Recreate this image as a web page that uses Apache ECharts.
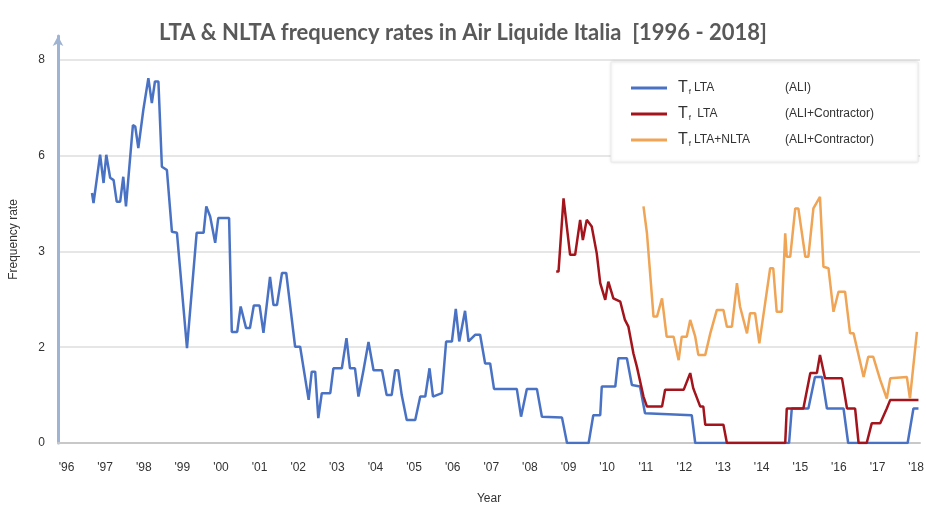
<!DOCTYPE html>
<html>
<head>
<meta charset="utf-8">
<script src="https://cdn.jsdelivr.net/npm/echarts@6/dist/echarts.min.js"></script>
<style>
  html, body { margin: 0; padding: 0; background: #fff; }
  #chart { width: 926px; height: 507px; }
</style>
</head>
<body>
<div id="chart"></div>
<script>
// Tf LTA (ALI) - [year, rate]
const aliLta = [
  [1996.66, 5.22], [1996.70, 5.01], [1996.87, 6.02], [1996.96, 5.43], [1997.03, 6.02],
  [1997.13, 5.54], [1997.22, 5.49], [1997.30, 5.04], [1997.39, 5.04], [1997.47, 5.56],
  [1997.54, 4.94], [1997.72, 6.64], [1997.78, 6.61], [1997.86, 6.16], [1997.99, 6.96],
  [1998.12, 7.62], [1998.21, 7.10], [1998.29, 7.55], [1998.38, 7.55], [1998.47, 5.77],
  [1998.60, 5.70], [1998.73, 4.41], [1998.86, 4.39], [1999.12, 1.98], [1999.37, 4.39],
  [1999.55, 4.39], [1999.62, 4.94], [1999.72, 4.73], [1999.85, 4.18], [1999.93, 4.70],
  [2000.21, 4.70], [2000.28, 2.32], [2000.42, 2.32], [2000.51, 2.85], [2000.65, 2.40],
  [2000.75, 2.40], [2000.85, 2.87], [2001.00, 2.87], [2001.10, 2.30], [2001.27, 3.47],
  [2001.36, 2.88], [2001.45, 2.88], [2001.58, 3.55], [2001.69, 3.55], [2001.92, 2.01],
  [2002.05, 2.01], [2002.27, 0.90], [2002.35, 1.49], [2002.44, 1.49], [2002.52, 0.52],
  [2002.61, 1.04], [2002.83, 1.04], [2002.91, 1.56], [2003.13, 1.56], [2003.25, 2.19],
  [2003.34, 1.56], [2003.47, 1.56], [2003.56, 0.97], [2003.69, 1.52], [2003.82, 2.11],
  [2003.95, 1.52], [2004.17, 1.52], [2004.29, 1.00], [2004.42, 1.00], [2004.51, 1.52],
  [2004.59, 1.52], [2004.68, 1.00], [2004.81, 0.48], [2005.03, 0.48], [2005.16, 0.97],
  [2005.29, 0.97], [2005.40, 1.56], [2005.49, 0.97], [2005.72, 1.04], [2005.83, 2.12],
  [2005.98, 2.12], [2006.08, 2.80], [2006.17, 2.12], [2006.32, 2.76], [2006.41, 2.12],
  [2006.58, 2.26], [2006.71, 2.26], [2006.84, 1.66], [2006.97, 1.66], [2007.07, 1.13],
  [2007.66, 1.13], [2007.77, 0.55], [2007.92, 1.13], [2008.18, 1.13], [2008.31, 0.55],
  [2008.83, 0.53], [2008.96, 0], [2009.52, 0], [2009.64, 0.58], [2009.82, 0.58],
  [2009.86, 1.18], [2010.21, 1.18], [2010.29, 1.77], [2010.51, 1.77], [2010.64, 1.21],
  [2010.85, 1.18], [2010.98, 0.62], [2012.19, 0.58], [2012.28, 0], [2014.71, 0],
  [2014.78, 0.72], [2015.21, 0.72], [2015.38, 1.38], [2015.56, 1.38], [2015.69, 0.72],
  [2016.12, 0.72], [2016.24, 0], [2017.78, 0], [2017.93, 0.72], [2018.06, 0.72]
];

// Tf LTA (ALI+Contractor)
const aliContrLta = [
  [2008.68, 3.58], [2008.74, 3.58], [2008.87, 5.11], [2009.04, 3.93], [2009.17, 3.93],
  [2009.30, 4.66], [2009.37, 4.24], [2009.47, 4.66], [2009.60, 4.52], [2009.73, 3.96],
  [2009.82, 3.34], [2009.95, 2.99], [2010.03, 3.37], [2010.16, 3.02], [2010.34, 2.95],
  [2010.46, 2.57], [2010.55, 2.43], [2010.68, 1.87], [2010.77, 1.59], [2010.94, 0.97],
  [2011.03, 0.76], [2011.42, 0.76], [2011.50, 1.11], [2011.98, 1.11], [2012.15, 1.46],
  [2012.23, 1.14], [2012.41, 0.76], [2012.49, 0.76], [2012.54, 0.38], [2013.01, 0.38],
  [2013.10, 0], [2014.61, 0], [2014.65, 0.72], [2015.08, 0.72], [2015.26, 1.46],
  [2015.43, 1.46], [2015.51, 1.84], [2015.64, 1.35], [2016.08, 1.35], [2016.21, 0.72],
  [2016.42, 0.72], [2016.51, 0], [2016.72, 0], [2016.85, 0.41], [2017.07, 0.41],
  [2017.24, 0.72], [2017.33, 0.90], [2018.06, 0.90]
];

// Tf LTA+NLTA (ALI+Contractor)
const aliContrLtaNlta = [
  [2010.94, 4.94], [2011.03, 4.38], [2011.20, 2.64], [2011.29, 2.64], [2011.42, 3.02],
  [2011.54, 2.22], [2011.72, 2.22], [2011.85, 1.73], [2011.93, 2.22], [2012.06, 2.22],
  [2012.15, 2.57], [2012.28, 2.22], [2012.36, 1.84], [2012.54, 1.84], [2012.67, 2.29],
  [2012.84, 2.78], [2013.01, 2.78], [2013.10, 2.43], [2013.23, 2.43], [2013.36, 3.34],
  [2013.44, 2.85], [2013.62, 2.29], [2013.70, 2.71], [2013.83, 2.71], [2013.94, 2.08],
  [2014.22, 3.65], [2014.30, 3.65], [2014.39, 2.74], [2014.52, 2.74], [2014.61, 4.38],
  [2014.65, 3.89], [2014.74, 3.89], [2014.87, 4.90], [2014.95, 4.90], [2015.13, 3.89],
  [2015.21, 3.89], [2015.34, 4.90], [2015.51, 5.14], [2015.60, 3.68], [2015.73, 3.65],
  [2015.86, 2.74], [2015.99, 3.16], [2016.16, 3.16], [2016.29, 2.29], [2016.38, 2.29],
  [2016.64, 1.38], [2016.76, 1.80], [2016.89, 1.80], [2017.07, 1.32], [2017.24, 0.93],
  [2017.33, 1.35], [2017.76, 1.38], [2017.84, 0.93], [2018.02, 2.32]
];

const years = [1996, 1997, 1998, 1999, 2000, 2001, 2002, 2003, 2004, 2005, 2006, 2007,
  2008, 2009, 2010, 2011, 2012, 2013, 2014, 2015, 2016, 2017, 2018];
const xTickLabels = ["'96", "'97", "'98", "'99", "'00", "'01", "'02", "'03", "'04", "'05", "'06", "'07",
  "'08", "'09", "'10", "'11", "'12", "'13", "'14", "'15", "'16", "'17", "'18"];
const yTicks = [0, 2, 4, 6, 8];
const yTickLabels = ['0', '2', '3', '6', '8'];

const seriesNames = ['Tf LTA (ALI)', 'Tf LTA (ALI+Contractor)', 'Tf LTA+NLTA (ALI+Contractor)'];
const legendMain = ['LTA', ' LTA', 'LTA+NLTA'];
const legendScope = ['(ALI)', '(ALI+Contractor)', '(ALI+Contractor)'];
const colors = ['#4a72c4', '#a3141c', '#f0a455'];

const FONT = 'Liberation Sans';

const chart = echarts.init(document.getElementById('chart'));

const option = {
  animation: false,
  color: colors,
  textStyle: { fontFamily: FONT },
  title: {
    text: 'LTA & NLTA frequency rates in Air Liquide Italia  [1996 - 2018]',
    left: 'center',
    top: 17,
    textStyle: { fontFamily: 'Lato', fontWeight: 'bold', fontSize: 22, color: '#595959' }
  },
  legend: {
    orient: 'vertical',
    left: 611,
    top: 62,
    padding: [18, 44, 14, 20],
    itemGap: 10,
    itemWidth: 36,
    itemHeight: 3,
    icon: 'rect',
    backgroundColor: '#fff',
    borderColor: '#ececec',
    borderWidth: 1,
    shadowBlur: 3,
    shadowColor: 'rgba(0,0,0,0.12)',
    data: seriesNames,
    formatter: function (name) {
      const i = seriesNames.indexOf(name);
      return '{t|T}{f|f}{m|' + legendMain[i] + '}{s|' + legendScope[i] + '}';
    },
    textStyle: {
      padding: [0, 0, 0, 6],
      rich: {
        t: { fontSize: 16, color: '#333', fontFamily: FONT },
        f: { fontSize: 8, color: '#333', padding: [7, 3, 0, 1], fontFamily: FONT },
        m: { fontSize: 12, color: '#333', width: 91, fontFamily: FONT },
        s: { fontSize: 12, color: '#333', fontFamily: FONT }
      }
    }
  },
  grid: { left: 58, right: 6, top: 36, bottom: 64, outerBoundsMode: 'none' },
  xAxis: {
    type: 'value',
    min: 1995.78,
    max: 2018.1,
    name: 'Year',
    nameLocation: 'middle',
    nameGap: 50,
    nameTextStyle: { fontSize: 12, color: '#333', fontFamily: FONT },
    axisLine: { show: true, onZero: false, lineStyle: { color: '#c8c8c8', width: 2 } },
    axisTick: { show: false },
    splitLine: { show: false },
    axisLabel: {
      customValues: years,
      color: '#333',
      fontSize: 12,
      fontFamily: FONT,
      margin: 19,
      formatter: function (v) { return xTickLabels[years.indexOf(Math.round(v))]; }
    }
  },
  yAxis: {
    type: 'value',
    min: 0,
    max: 8.5,
    name: 'Frequency rate',
    nameLocation: 'middle',
    nameGap: 38,
    nameTextStyle: { fontSize: 12, color: '#333', fontFamily: FONT },
    axisLine: {
      show: true,
      symbol: ['none', 'arrow'],
      symbolSize: [8, 10],
      lineStyle: { color: '#9fb4d2', width: 3 }
    },
    axisTick: { show: false, customValues: yTicks },
    axisLabel: {
      customValues: yTicks,
      color: '#333',
      fontSize: 12,
      fontFamily: FONT,
      margin: 13,
      formatter: function (v) { return yTickLabels[yTicks.indexOf(v)]; }
    },
    splitLine: { show: true, lineStyle: { color: '#dedede', width: 1.5 } }
  },
  series: [
    { name: seriesNames[0], type: 'line', data: aliLta, showSymbol: false, lineStyle: { width: 2.5 } },
    { name: seriesNames[1], type: 'line', data: aliContrLta, showSymbol: false, lineStyle: { width: 2.5 } },
    { name: seriesNames[2], type: 'line', data: aliContrLtaNlta, showSymbol: false, lineStyle: { width: 2.5 } }
  ]
};

chart.setOption(option);
</script>
</body>
</html>
